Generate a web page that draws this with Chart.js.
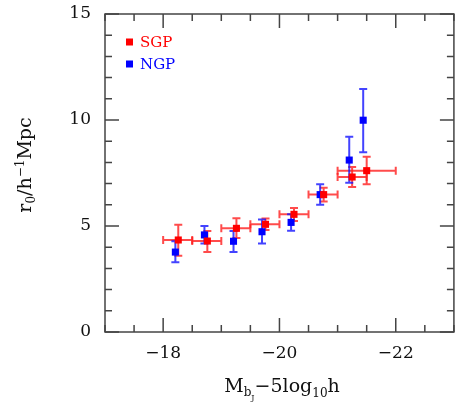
<!DOCTYPE html>
<html>
<head>
<meta charset="utf-8">
<script src="https://cdn.jsdelivr.net/npm/chart.js@4/dist/chart.umd.min.js"></script>
<style>
  html, body { margin: 0; padding: 0; background: #fff; }
</style>
</head>
<body>
<canvas id="c" width="456" height="402"></canvas>
<script>
// SGP: magnitude bins with x error (bin edges) and r0 with y errors
const sgpX   = [-18.26, -18.76, -19.26, -19.76, -20.25, -20.76, -21.25, -21.50];
const sgpY   = [4.34, 4.29, 4.89, 5.08, 5.55, 6.48, 7.31, 7.61];
const sgpYLo = [3.60, 3.77, 4.43, 4.81, 5.24, 6.15, 6.84, 6.97];
const sgpYHi = [5.06, 4.76, 5.36, 5.35, 5.85, 6.81, 7.78, 8.27];
const sgpXLo = [-18.0, -18.5, -19.0, -19.5, -20.0, -20.5, -21.0, -21.0];
const sgpXHi = [-18.5, -19.0, -19.5, -20.0, -20.5, -21.0, -21.5, -22.0];

// NGP: y errors only
const ngpX   = [-18.21, -18.71, -19.21, -19.70, -20.20, -20.70, -21.20, -21.44];
const ngpY   = [3.77, 4.58, 4.28, 4.73, 5.17, 6.48, 8.11, 9.99];
const ngpYLo = [3.29, 4.17, 3.77, 4.17, 4.78, 6.00, 7.04, 8.48];
const ngpYHi = [4.28, 5.00, 4.76, 5.31, 5.55, 6.97, 9.21, 11.46];

const xTicks = [-18, -20, -22];
const yTicks = [0, 5, 10, 15];

const serif = "'DejaVu Serif', 'Liberation Serif', serif";

const sgpPts = sgpX.map((x, i) => ({ x, y: sgpY[i], yLo: sgpYLo[i], yHi: sgpYHi[i], xLo: sgpXLo[i], xHi: sgpXHi[i] }));
const ngpPts = ngpX.map((x, i) => ({ x, y: ngpY[i], yLo: ngpYLo[i], yHi: ngpYHi[i] }));

// draws text pieces with sub/superscripts, starting at x on baseline y
function richText(ctx, parts, x, y) {
    parts.forEach(p => {
        ctx.font = p.size + 'px ' + serif;
        ctx.fillText(p.t, x, y + (p.dy || 0));
        x += ctx.measureText(p.t).width;
    });
    return x;
}
function richWidth(ctx, parts) {
    let w = 0;
    parts.forEach(p => { ctx.font = p.size + 'px ' + serif; w += ctx.measureText(p.t).width; });
    return w;
}

const errorBars = {
    id: 'errorBars',
    beforeDatasetsDraw(chart) {
        const { ctx, scales: { x, y } } = chart;
        const cap = 4;
        ctx.save();
        ctx.lineWidth = 2;
        chart.data.datasets.forEach(ds => {
            ctx.strokeStyle = ds.barColor;
            ds.data.forEach(p => {
                const px = x.getPixelForValue(p.x), py = y.getPixelForValue(p.y);
                const y1 = y.getPixelForValue(p.yLo), y2 = y.getPixelForValue(p.yHi);
                ctx.beginPath();
                ctx.moveTo(px, y1); ctx.lineTo(px, y2);
                ctx.moveTo(px - cap, y1); ctx.lineTo(px + cap, y1);
                ctx.moveTo(px - cap, y2); ctx.lineTo(px + cap, y2);
                if (p.xLo !== undefined) {
                    const x1 = x.getPixelForValue(p.xLo), x2 = x.getPixelForValue(p.xHi);
                    ctx.moveTo(x1, py); ctx.lineTo(x2, py);
                    ctx.moveTo(x1, py - cap); ctx.lineTo(x1, py + cap);
                    ctx.moveTo(x2, py - cap); ctx.lineTo(x2, py + cap);
                }
                ctx.stroke();
            });
        });
        ctx.restore();
    }
};

const frame = {
    id: 'frame',
    afterDraw(chart) {
        const { ctx, scales: { x, y } } = chart;
        const L = x.getPixelForValue(-17), R = x.getPixelForValue(-23);
        const T = y.getPixelForValue(15), B = y.getPixelForValue(0);
        ctx.save();
        ctx.strokeStyle = '#444';
        ctx.lineWidth = 1.5;
        ctx.strokeRect(L, T, R - L, B - T);
        ctx.beginPath();
        for (let v = -17; v >= -23; v -= 0.5) {
            const px = x.getPixelForValue(v);
            const len = (v % 2 === 0) ? 14 : 7;
            ctx.moveTo(px, B); ctx.lineTo(px, B - len);
            ctx.moveTo(px, T); ctx.lineTo(px, T + len);
        }
        for (let v = 0; v <= 15; v += 1) {
            const py = y.getPixelForValue(v);
            const len = (v % 5 === 0) ? 14 : 7;
            ctx.moveTo(L, py); ctx.lineTo(L + len, py);
            ctx.moveTo(R, py); ctx.lineTo(R - len, py);
        }
        ctx.stroke();

        // legend
        ctx.textBaseline = 'alphabetic';
        ctx.textAlign = 'left';
        chart.data.datasets.forEach((ds, i) => {
            const ly = 42 + i * 22;
            ctx.fillStyle = ds.backgroundColor;
            ctx.fillRect(126, ly - 3.5, 7, 7);
            ctx.font = '15px ' + serif;
            ctx.fillText(ds.label, 140, ly + 5);
        });

        // axis titles
        ctx.fillStyle = '#111';
        const xt = [
            { t: 'M', size: 19 }, { t: 'b', size: 12, dy: 4 }, { t: 'J', size: 8, dy: 8 },
            { t: '\u22125log', size: 19 }, { t: '10', size: 12, dy: 5 }, { t: 'h', size: 19 }
        ];
        richText(ctx, xt, 282 - richWidth(ctx, xt) / 2, 392);

        const yt = [
            { t: 'r', size: 19 }, { t: '0', size: 12, dy: 4 }, { t: '/h', size: 19 },
            { t: '\u22121', size: 12, dy: -7 }, { t: 'Mpc', size: 19 }
        ];
        ctx.translate(31, 165);
        ctx.rotate(-Math.PI / 2);
        richText(ctx, yt, -richWidth(ctx, yt) / 2, 0);
        ctx.restore();
    }
};

new Chart(document.getElementById('c'), {
    type: 'scatter',
    data: {
        datasets: [
            { label: 'SGP', data: sgpPts, backgroundColor: '#ff0000', borderColor: '#ff0000', barColor: 'rgba(255,30,30,0.8)',
              pointStyle: 'rect', pointRadius: 5, borderWidth: 0 },
            { label: 'NGP', data: ngpPts, backgroundColor: '#0000ff', borderColor: '#0000ff', barColor: 'rgba(20,20,255,0.8)',
              pointStyle: 'rect', pointRadius: 5, borderWidth: 0 }
        ]
    },
    options: {
        responsive: false,
        animation: false,
        layout: { padding: { top: 14, right: 0, left: 0, bottom: 0 } },
        plugins: { legend: { display: false }, tooltip: { enabled: false } },
        scales: {
            x: {
                type: 'linear', reverse: true, min: -22.95, max: -17,
                afterBuildTicks: s => { s.ticks = xTicks.map(v => ({ value: v })); },
                afterFit: s => { s.height = 70; s.paddingLeft = 0; s.paddingRight = 0; },
                grid: { display: false, drawTicks: false },
                border: { display: false },
                ticks: { color: '#111', padding: 11, font: { family: serif, size: 17 },
                         callback: v => '\u2212' + Math.abs(v) }
            },
            y: {
                type: 'linear', min: 0, max: 15,
                afterBuildTicks: s => { s.ticks = yTicks.map(v => ({ value: v })); },
                afterFit: s => { s.width = 105; s.paddingTop = 0; s.paddingBottom = 0; },
                grid: { display: false, drawTicks: false },
                border: { display: false },
                ticks: { color: '#111', padding: 14, font: { family: serif, size: 17 } }
            }
        }
    },
    plugins: [errorBars, frame]
});
</script>
</body>
</html>
